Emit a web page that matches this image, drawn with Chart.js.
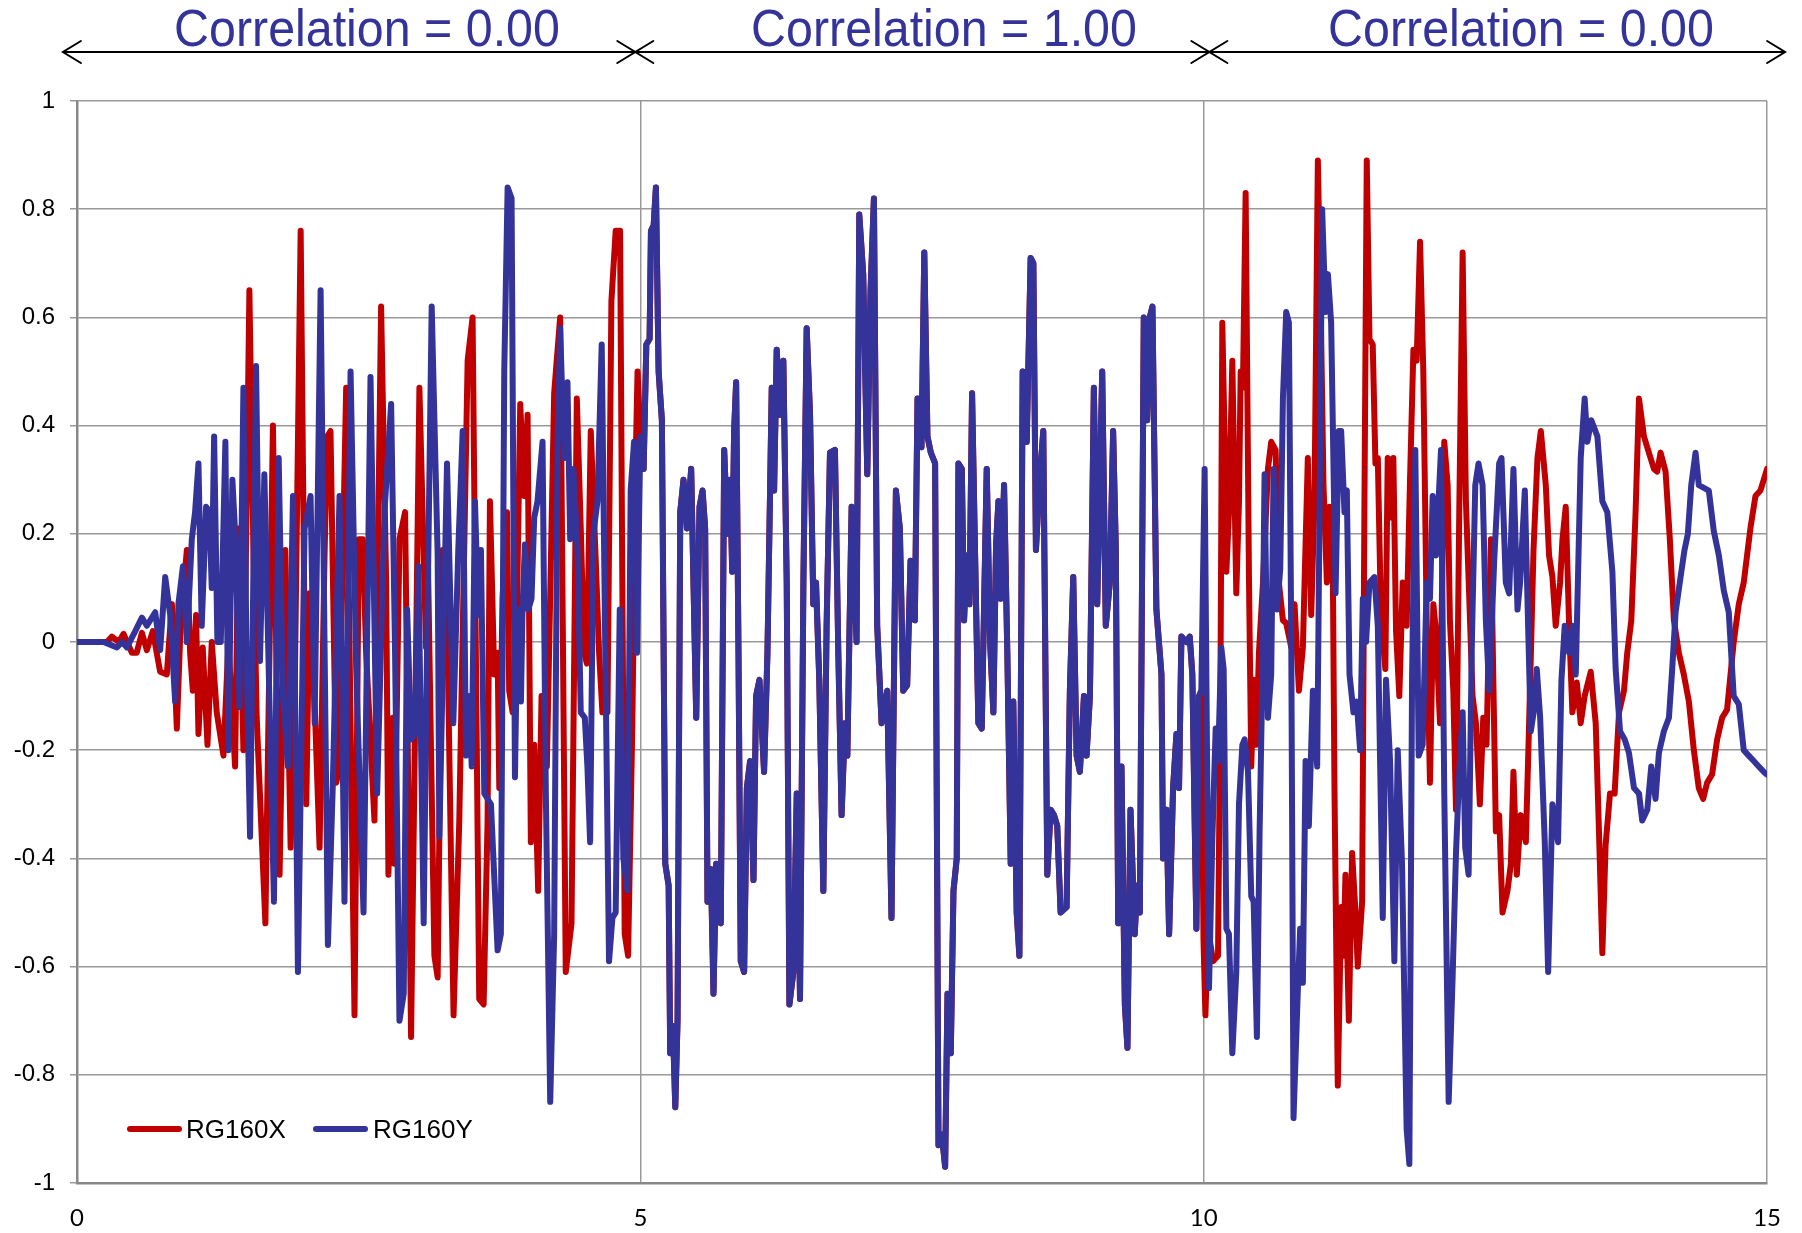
<!DOCTYPE html>
<html><head><meta charset="utf-8">
<script src="https://cdn.jsdelivr.net/npm/chart.js@4.4.1/dist/chart.umd.min.js"></script>
<style>
html,body{margin:0;padding:0;background:#fff;width:1802px;height:1233px;overflow:hidden}
#wrap{position:relative;width:1802px;height:1233px}
canvas{position:absolute;left:0;top:0}
.title{position:absolute;top:2px;font-family:'Liberation Sans',Arial,sans-serif;font-size:52px;line-height:52px;color:#333399;white-space:nowrap;transform:translateX(-50%) scaleX(0.93)}
.legline{position:absolute;height:6px;border-radius:3px}
.legtxt{position:absolute;top:1116px;font-family:'Liberation Sans',Arial,sans-serif;font-size:26px;line-height:26px;color:#000;white-space:nowrap}
</style></head>
<body><div id="wrap">
<canvas id="c" width="1802" height="1233"></canvas>
<div class="title" style="left:367px">Correlation = 0.00</div>
<div class="title" style="left:944px">Correlation = 1.00</div>
<div class="title" style="left:1521px">Correlation = 0.00</div>
<div class="legline" style="left:127px;top:1126px;width:55px;background:#C00000"></div>
<div class="legtxt" style="left:186px">RG160X</div>
<div class="legline" style="left:313px;top:1126px;width:55px;background:#333399"></div>
<div class="legtxt" style="left:373px">RG160Y</div>
</div>
<script>
// Series names
const seriesNames = ['RG160X', 'RG160Y'];
// Section labels
const sectionLabels = ['Correlation = 0.00', 'Correlation = 1.00', 'Correlation = 0.00'];
// Tick values
const xTicks = [0, 5, 10, 15];
const yTicks = [1, 0.8, 0.6, 0.4, 0.2, 0, -0.2, -0.4, -0.6, -0.8, -1];

// [time s, value] — RG160X, 0 to 5 s
const redEarly = [
[0,0],[0.266,0],[0.31,0.01],[0.37,0],[0.413,0.015],[0.487,-0.02],[0.53,-0.02],[0.576,0.017],[0.62,-0.015],[0.673,0.02],
[0.738,-0.055],[0.797,-0.06],[0.842,0.07],[0.886,-0.16],[0.921,0.04],[0.975,0.17],[1.004,-0.02],[1.028,-0.09],[1.057,0.05],[1.078,-0.17],
[1.116,-0.01],[1.158,-0.19],[1.196,0],[1.24,-0.13],[1.30,-0.21],[1.344,0],[1.403,-0.23],[1.432,0.21],[1.477,-0.20],[1.53,0.65],
[1.565,0.18],[1.595,-0.14],[1.672,-0.52],[1.739,0.40],[1.798,-0.43],[1.849,0.17],[1.896,-0.38],[1.931,-0.11],[1.985,0.76],[2.035,-0.30],
[2.064,0.09],[2.094,-0.02],[2.153,-0.38],[2.197,0.16],[2.221,0.38],[2.250,0.39],[2.301,-0.26],[2.321,-0.24],[2.389,0.47],[2.433,-0.23],
[2.463,-0.69],[2.501,0.19],[2.537,0.19],[2.566,-0.02],[2.640,-0.33],[2.699,0.62],[2.744,0.11],[2.764,-0.43],[2.803,-0.14],[2.817,-0.41],
[2.862,0.19],[2.912,0.24],[2.965,-0.73],[3.039,0.47],[3.098,-0.01],[3.113,0.17],[3.172,-0.58],[3.201,-0.62],[3.246,0.17],[3.290,-0.02],
[3.342,-0.69],[3.393,-0.33],[3.467,0.52],[3.511,0.60],[3.570,-0.66],[3.609,-0.67],[3.644,-0.33],[3.665,0.26],[3.703,-0.06],[3.733,-0.02],
[3.748,-0.27],[3.777,0.08],[3.816,0.24],[3.836,-0.09],[3.866,-0.13],[3.895,-0.06],[3.934,0.44],[3.969,0.27],[3.999,0.42],[4.028,-0.37],
[4.058,-0.19],[4.093,-0.46],[4.123,-0.10],[4.170,-0.23],[4.235,0.46],[4.288,0.60],[4.338,-0.61],[4.389,-0.52],[4.436,0.45],[4.471,0.21],
[4.501,-0.02],[4.525,-0.04],[4.560,0.39],[4.604,0.15],[4.634,-0.02],[4.663,-0.13],[4.708,-0.13],[4.743,0.63],[4.781,0.76],[4.820,0.76],
[4.840,0.11],[4.861,-0.54],[4.891,-0.58],[4.929,-0.15],[4.959,0.34],[4.975,0.50]
];

// [time s, value] — RG160Y, 0 to 5 s
const blueEarly = [
[0,0],[0.236,0],[0.295,-0.005],[0.354,-0.01],[0.40,0],[0.443,-0.01],[0.517,0.02],[0.576,0.045],[0.62,0.03],[0.694,0.055],
[0.738,-0.015],[0.783,0.12],[0.827,0.05],[0.871,-0.11],[0.90,0.07],[0.94,0.14],[0.975,0],[1.019,0.19],[1.048,0.24],[1.078,0.33],
[1.107,0.03],[1.146,0.25],[1.175,0.24],[1.196,0.10],[1.217,0.38],[1.246,0],[1.276,0],[1.317,0.37],[1.344,-0.20],[1.379,0.30],
[1.409,0.18],[1.441,-0.12],[1.477,0.47],[1.506,-0.05],[1.536,-0.36],[1.589,0.51],[1.624,-0.035],[1.663,0.31],[1.710,-0.13],[1.748,-0.48],
[1.790,0.34],[1.828,-0.10],[1.872,-0.23],[1.917,0.27],[1.961,-0.61],[2.020,0.21],[2.073,0.27],[2.109,-0.15],[2.162,0.65],[2.227,-0.56],
[2.271,-0.26],[2.330,0.27],[2.374,-0.48],[2.428,0.50],[2.478,-0.05],[2.543,-0.50],[2.605,0.49],[2.664,-0.28],[2.729,0.24],[2.788,0.44],
[2.823,-0.02],[2.862,-0.70],[2.900,-0.65],[2.930,0.06],[2.965,-0.18],[3.000,-0.17],[3.030,0.14],[3.077,-0.52],[3.098,-0.15],[3.148,0.62],
[3.201,0.16],[3.216,-0.36],[3.284,0.33],[3.340,-0.15],[3.384,0.17],[3.423,0.39],[3.452,-0.21],[3.482,-0.10],[3.503,-0.23],[3.532,0.26],
[3.562,0.05],[3.585,0.17],[3.615,-0.28],[3.674,-0.30],[3.733,-0.57],[3.762,-0.54],[3.792,0.50],[3.822,0.84],[3.857,0.82],[3.887,-0.25],
[3.910,0.06],[3.940,-0.11],[3.954,0.06],[3.975,0.18],[4.005,0.06],[4.034,0.08],[4.058,0.23],[4.087,0.26],[4.132,0.37],[4.161,-0.28],
[4.200,-0.85],[4.235,-0.54],[4.265,0.37],[4.288,0.58],[4.324,0.34],[4.353,0.48],[4.377,0.19],[4.406,0.32],[4.442,0.17],[4.471,-0.13],
[4.507,-0.14],[4.530,-0.23],[4.554,-0.37],[4.583,0.20],[4.619,0.26],[4.657,0.55],[4.693,-0.09],[4.722,-0.59],[4.752,-0.51],[4.781,-0.50],
[4.817,0.06],[4.849,-0.40],[4.885,-0.46],[4.914,0.28],[4.944,0.37],[4.970,-0.02]
];

// [time s, value] — 5 to 10 s, identical for both series
const sharedMiddle = [
[5.000,0.38],[5.029,0.32],[5.053,0.55],[5.082,0.56],[5.094,0.76],[5.118,0.77],[5.138,0.84],[5.162,0.50],[5.191,0.41],[5.221,-0.41],
[5.251,-0.45],[5.265,-0.76],[5.289,-0.71],[5.310,-0.86],[5.330,-0.70],[5.354,0.24],[5.383,0.30],[5.413,0.21],[5.451,0.32],[5.496,-0.14],
[5.525,0.25],[5.552,0.28],[5.575,0.21],[5.596,-0.48],[5.626,-0.42],[5.649,-0.65],[5.673,-0.41],[5.714,-0.52],[5.744,0.355],[5.773,0.20],
[5.797,0.30],[5.815,0.13],[5.832,0.39],[5.850,0.48],[5.871,-0.02],[5.891,-0.59],[5.921,-0.61],[5.945,-0.27],[5.974,-0.22],[6.004,-0.44],
[6.027,-0.10],[6.057,-0.07],[6.098,-0.24],[6.128,-0.02],[6.166,0.47],[6.187,0.28],[6.210,0.54],[6.240,0.42],[6.269,0.52],[6.299,0.11],
[6.323,-0.67],[6.358,-0.61],[6.388,-0.28],[6.417,-0.66],[6.447,0.11],[6.476,0.58],[6.506,0.42],[6.535,0.07],[6.559,0.11],[6.588,-0.07],
[6.624,-0.46],[6.653,0.03],[6.683,0.35],[6.727,0.355],[6.757,-0.02],[6.786,-0.32],[6.816,-0.15],[6.837,-0.21],[6.875,0.25],[6.919,0.0],
[6.943,0.79],[6.978,0.68],[7.014,0.31],[7.043,0.65],[7.073,0.82],[7.102,0.03],[7.141,-0.15],[7.191,-0.09],[7.229,-0.51],[7.268,0.28],
[7.303,0.21],[7.333,-0.09],[7.368,-0.08],[7.398,0.15],[7.436,0.04],[7.460,0.45],[7.495,0.36],[7.520,0.72],[7.548,0.38],[7.578,0.35],
[7.616,0.33],[7.646,-0.93],[7.675,-0.91],[7.705,-0.97],[7.726,-0.65],[7.755,-0.76],[7.779,-0.46],[7.808,-0.40],[7.823,0.33],[7.853,0.32],
[7.873,0.04],[7.897,0.16],[7.921,0.07],[7.944,0.46],[7.971,0.16],[8.000,-0.15],[8.030,-0.16],[8.074,0.32],[8.104,0.0],[8.133,-0.13],
[8.157,0.18],[8.178,0.26],[8.198,0.08],[8.228,0.29],[8.257,-0.02],[8.287,-0.41],[8.310,-0.11],[8.340,-0.50],[8.364,-0.58],[8.393,0.50],
[8.429,0.37],[8.464,0.71],[8.488,0.70],[8.511,0.17],[8.541,0.29],[8.576,0.39],[8.612,-0.43],[8.641,-0.31],[8.671,-0.32],[8.700,-0.34],
[8.730,-0.50],[8.783,-0.49],[8.812,-0.09],[8.842,0.12],[8.872,-0.21],[8.901,-0.24],[8.937,-0.10],[8.960,-0.21],[8.990,-0.10],[9.025,0.47],
[9.055,0.07],[9.099,0.50],[9.131,0.03],[9.167,0.11],[9.196,0.39],[9.220,0.17],[9.241,-0.52],[9.270,-0.23],[9.300,-0.67],[9.323,-0.75],
[9.350,-0.31],[9.388,-0.54],[9.409,-0.45],[9.433,-0.50],[9.468,0.60],[9.498,0.41],[9.521,0.60],[9.545,0.62],[9.580,0.06],[9.625,-0.06],
[9.639,-0.40],[9.669,-0.31],[9.693,-0.54],[9.728,-0.27],[9.758,-0.17],[9.781,-0.27],[9.802,0.01],[9.846,0.0],[9.876,0.01],[9.899,-0.06],
[9.935,-0.53],[9.958,-0.10],[9.979,-0.09]
];

// [time s, value] — RG160X, 10 to 15 s
const redLate = [
[9.998,-0.55],[10.015,-0.69],[10.038,-0.53],[10.083,-0.59],[10.127,-0.58],[10.148,-0.10],[10.165,0.59],[10.186,0.37],[10.201,0.13],[10.224,0.24],
[10.254,0.52],[10.275,0.26],[10.289,0.09],[10.313,0.26],[10.328,0.50],[10.348,0.47],[10.372,0.83],[10.402,0.11],[10.422,-0.23],[10.443,-0.07],
[10.467,-0.19],[10.490,-0.02],[10.526,0.11],[10.570,0.32],[10.599,0.37],[10.638,0.355],[10.667,0.11],[10.703,0.04],[10.732,0.035],[10.777,-0.01],
[10.806,0.07],[10.845,-0.09],[10.880,-0.01],[10.924,0.34],[10.954,0.05],[10.983,0.26],[11.013,0.89],[11.042,0.57],[11.063,0.29],[11.093,0.11],
[11.116,0.25],[11.146,0.13],[11.161,-0.28],[11.190,-0.82],[11.220,-0.49],[11.240,-0.58],[11.258,-0.43],[11.288,-0.70],[11.317,-0.39],[11.347,-0.50],
[11.367,-0.60],[11.406,-0.48],[11.426,0.24],[11.447,0.89],[11.471,0.56],[11.500,0.55],[11.524,0.33],[11.545,0.34],[11.574,0.04],[11.612,-0.05],
[11.633,0.34],[11.663,0.23],[11.683,0.34],[11.707,0.02],[11.736,-0.10],[11.766,0.11],[11.801,0.03],[11.831,0.30],[11.861,0.54],[11.890,0.52],
[11.920,0.74],[11.949,0.50],[11.979,0.04],[12.008,-0.26],[12.038,0.07],[12.061,0.02],[12.097,-0.15],[12.135,0.37],[12.165,0.29],[12.185,0.04],
[12.215,-0.09],[12.239,-0.31],[12.268,0.24],[12.298,0.72],[12.327,0.26],[12.357,0.08],[12.386,-0.10],[12.416,-0.15],[12.451,-0.30],[12.481,-0.14],
[12.510,-0.19],[12.549,0.19],[12.572,-0.09],[12.593,-0.35],[12.622,-0.32],[12.652,-0.50],[12.696,-0.46],[12.726,-0.41],[12.749,-0.24],[12.779,-0.43],
[12.814,-0.32],[12.859,-0.37],[12.888,-0.15],[12.927,0.17],[12.962,0.34],[12.992,0.39],[13.036,0.29],[13.065,0.16],[13.095,0.12],[13.124,0.03],
[13.163,0.11],[13.184,0.19],[13.213,0.25],[13.243,0.03],[13.272,-0.13],[13.311,-0.075],[13.346,-0.15],[13.381,-0.10],[13.435,-0.055],[13.479,-0.15],
[13.508,-0.35],[13.538,-0.575],[13.567,-0.375],[13.606,-0.28],[13.647,-0.28],[13.686,-0.13],[13.730,-0.09],[13.759,-0.02],[13.795,0.04],[13.833,0.24],
[13.863,0.45],[13.907,0.38],[13.951,0.35],[13.996,0.32],[14.025,0.315],[14.055,0.35],[14.099,0.315],[14.137,0.19],[14.173,0.04],[14.217,-0.02],
[14.261,-0.06],[14.306,-0.11],[14.350,-0.20],[14.394,-0.27],[14.433,-0.29],[14.468,-0.26],[14.512,-0.245],[14.557,-0.18],[14.601,-0.14],[14.645,-0.125],
[14.704,0.0],[14.749,0.07],[14.793,0.11],[14.852,0.21],[14.897,0.27],[14.941,0.28],[14.985,0.31],[15.0,0.32]
];

// [time s, value] — RG160Y, 10 to 15 s
const blueLate = [
[10.008,0.32],[10.047,-0.64],[10.077,-0.36],[10.106,-0.16],[10.127,-0.22],[10.156,-0.01],[10.177,-0.05],[10.201,-0.53],[10.224,-0.54],[10.254,-0.76],
[10.289,-0.61],[10.313,-0.30],[10.343,-0.19],[10.363,-0.18],[10.393,-0.24],[10.422,-0.47],[10.443,-0.48],[10.472,-0.73],[10.496,-0.35],[10.520,-0.07],
[10.540,0.31],[10.570,-0.14],[10.599,-0.06],[10.620,0.32],[10.650,0.06],[10.679,0.135],[10.703,0.45],[10.732,0.61],[10.756,0.59],[10.777,0.0],
[10.797,-0.88],[10.836,-0.64],[10.856,-0.53],[10.880,-0.63],[10.904,-0.22],[10.933,-0.34],[10.969,-0.09],[11.007,-0.23],[11.028,0.24],[11.051,0.80],
[11.081,0.61],[11.102,0.68],[11.131,0.59],[11.170,0.09],[11.199,0.39],[11.220,0.39],[11.249,0.24],[11.270,0.28],[11.294,-0.06],[11.329,-0.13],
[11.358,-0.11],[11.388,-0.20],[11.412,0.08],[11.441,0.0],[11.471,0.11],[11.515,0.12],[11.545,0.03],[11.589,-0.51],[11.618,-0.07],[11.654,-0.22],
[11.692,-0.59],[11.722,-0.20],[11.760,-0.41],[11.801,-0.90],[11.825,-0.965],[11.849,-0.07],[11.878,0.355],[11.908,-0.21],[11.943,-0.19],[11.979,0.11],
[12.008,0.08],[12.032,0.27],[12.061,0.16],[12.106,0.355],[12.135,-0.28],[12.174,-0.85],[12.209,-0.62],[12.239,-0.39],[12.268,-0.24],[12.298,-0.13],
[12.321,-0.38],[12.351,-0.43],[12.380,0.0],[12.410,0.29],[12.439,0.33],[12.475,0.29],[12.504,0.04],[12.534,-0.09],[12.578,0.15],[12.622,0.33],
[12.643,0.34],[12.681,0.11],[12.711,0.09],[12.749,0.32],[12.785,0.06],[12.808,0.11],[12.850,0.28],[12.879,0.03],[12.903,-0.165],[12.932,-0.125],
[12.956,-0.05],[12.986,-0.14],[13.027,-0.37],[13.057,-0.61],[13.095,-0.30],[13.145,-0.37],[13.175,-0.07],[13.204,0.03],[13.243,-0.02],[13.272,0.03],
[13.302,-0.06],[13.346,0.34],[13.381,0.45],[13.405,0.37],[13.440,0.41],[13.494,0.38],[13.538,0.26],[13.582,0.24],[13.627,0.13],[13.656,-0.05],
[13.695,-0.165],[13.736,-0.18],[13.774,-0.205],[13.819,-0.27],[13.863,-0.28],[13.892,-0.33],[13.937,-0.31],[13.972,-0.23],[14.010,-0.29],[14.040,-0.205],
[14.084,-0.165],[14.129,-0.14],[14.158,-0.05],[14.188,0.055],[14.232,0.12],[14.267,0.17],[14.297,0.20],[14.327,0.29],[14.365,0.35],[14.394,0.29],
[14.439,0.285],[14.483,0.28],[14.527,0.205],[14.572,0.16],[14.616,0.095],[14.660,0.055],[14.704,-0.10],[14.749,-0.115],[14.793,-0.20],[14.837,-0.21],
[14.882,-0.22],[14.926,-0.23],[14.970,-0.24],[15.0,-0.245]
];

const toXY = arr => arr.map(p => ({x: p[0], y: p[1]}));
const redData = toXY(redEarly.concat(sharedMiddle, redLate));
const blueData = toXY(blueEarly.concat(sharedMiddle, blueLate));

const arrowPlugin = {
  id: 'arrows',
  afterDraw(chart) {
    const ctx = chart.ctx;
    const xs = chart.scales.x;
    const y = 52;
    const spans = [[-0.125, 4.955], [4.955, 10.05], [10.05, 15.16]];
    ctx.save();
    ctx.strokeStyle = '#000';
    ctx.lineWidth = 2;
    ctx.lineCap = 'round';
    spans.forEach(s => {
      const a = xs.getPixelForValue(s[0]), b = xs.getPixelForValue(s[1]);
      ctx.beginPath();
      ctx.moveTo(a, y); ctx.lineTo(b, y);
      ctx.moveTo(a + 18, y - 11); ctx.lineTo(a, y); ctx.lineTo(a + 18, y + 11);
      ctx.moveTo(b - 18, y - 11); ctx.lineTo(b, y); ctx.lineTo(b - 18, y + 11);
      ctx.stroke();
    });
    ctx.restore();
  }
};

new Chart(document.getElementById('c'), {
  type: 'line',
  data: {
    datasets: [
      {label: seriesNames[1], data: blueData, borderColor: '#333399', borderWidth: 6, pointRadius: 0, tension: 0, order: 1, borderJoinStyle: 'round', borderCapStyle: 'round'},
      {label: seriesNames[0], data: redData, borderColor: '#C00000', borderWidth: 6, pointRadius: 0, tension: 0, order: 2, borderJoinStyle: 'round', borderCapStyle: 'round'}
    ]
  },
  options: {
    responsive: false,
    animation: false,
    parsing: true,
    layout: {padding: {top: 101, right: 30, left: 0, bottom: 0}},
    plugins: {legend: {display: false}, tooltip: {enabled: false}, title: {display: false}},
    scales: {
      x: {
        type: 'linear', min: 0, max: 15,
        afterBuildTicks: s => { s.ticks = xTicks.map(v => ({value: v})); },
        afterFit: s => { s.height = 50; },
        grid: {color: '#999999', lineWidth: 1.5, drawTicks: false},
        border: {display: true, color: '#888888', width: 2.5},
        ticks: {padding: 21, color: '#000', font: {family: 'Lato, "Open Sans", sans-serif', size: 24}, maxRotation: 0}
      },
      y: {
        type: 'linear', min: -1, max: 1,
        afterBuildTicks: s => { s.ticks = yTicks.map(v => ({value: v})); },
        afterFit: s => { s.width = 77; },
        grid: {color: '#999999', lineWidth: 1.5, drawTicks: true, tickLength: 7},
        border: {display: true, color: '#888888', width: 2.5},
        ticks: {padding: 15, color: '#000', font: {family: '"Liberation Sans", Arial, sans-serif', size: 24},
          callback: v => String(Number(v.toFixed(1)))}
      }
    }
  },
  plugins: [arrowPlugin]
});
</script>
</body></html>
